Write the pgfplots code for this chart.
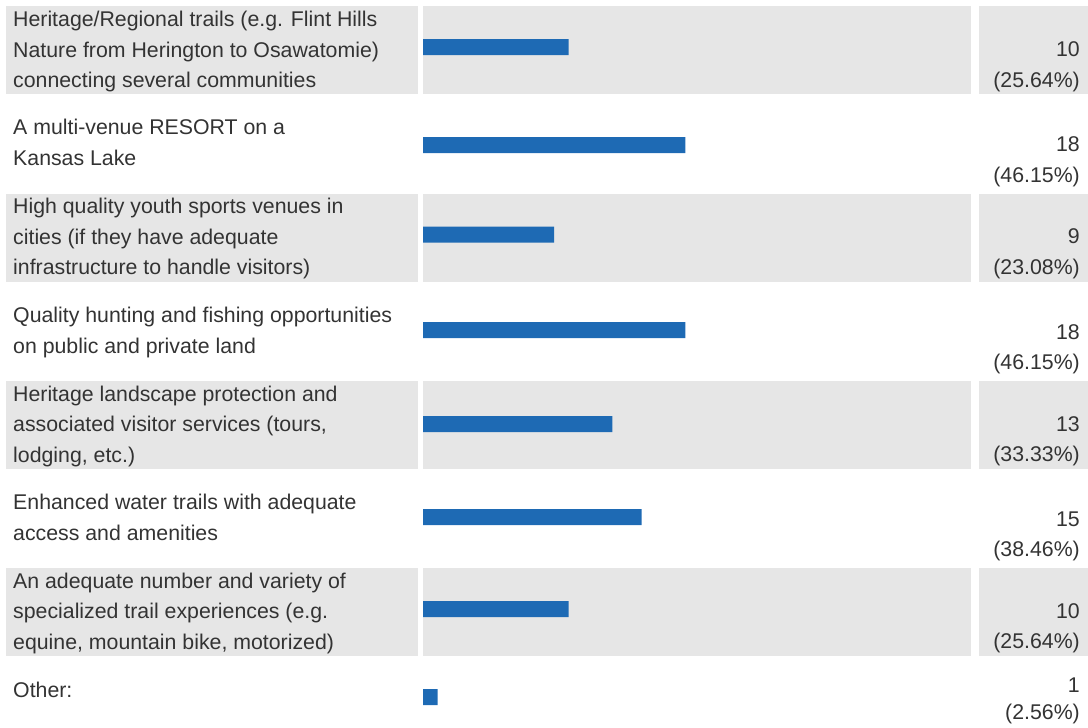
\documentclass[border=0pt]{standalone}
\usepackage{fontspec}
\setmainfont{Liberation Sans}
\usepackage{pgfplots}
\usepackage{pgfplotstable}
\pgfplotsset{compat=1.18}

\definecolor{barblue}{RGB}{30,106,180}
\definecolor{rowgray}{RGB}{230,230,230}
\definecolor{txt}{RGB}{51,51,51}

% ypos = bar centre, measured in pixels from the top
\pgfplotstableread{
ypos  count
47    10
145   18
234.7 9
330   18
424   13
517   15
609   10
697   1
}\responses

% one line of label text, base at pixel row #2
\newcommand\lab[2]{\node[anchor=base west, inner sep=0pt, text=txt] at (13pt,{728pt-#2pt}) {#1};}
\newcommand\val[2]{\node[anchor=base east, inner sep=0pt, text=txt] at (1080pt,{728pt-#2pt}) {#1};}
\newcommand\grayrow[1]{%
  \fill[rowgray] (6pt,{728pt-#1pt}) rectangle (418pt,{728pt-#1pt-88pt});
  \fill[rowgray] (423pt,{728pt-#1pt}) rectangle (971pt,{728pt-#1pt-88pt});
  \fill[rowgray] (979pt,{728pt-#1pt}) rectangle (1088pt,{728pt-#1pt-88pt});}

\begin{document}
\begin{tikzpicture}
\useasboundingbox (0,0) rectangle (1088pt,728pt);
\fontsize{21.3pt}{30.5pt}\selectfont

\grayrow{6.5}
\grayrow{193.7}
\grayrow{380.9}
\grayrow{568.1}

\begin{axis}[
	at={(423pt,0pt)}, anchor=south west,
	scale only axis,
	width=548pt, height=728pt,
	xmin=0, xmax=37.6,
	ymin=0, ymax=728,
	y dir=reverse,
	hide axis,
	xbar, bar width=16pt, bar shift=0pt,
	]
	\addplot[fill=barblue, draw=none] table[x=count, y=ypos] {\responses};
\end{axis}

% labels
\lab{Heritage/Regional trails (e.g. Flint Hills}{26.7}
\lab{Nature from Herington to Osawatomie)}{57.2}
\lab{connecting several communities}{87.7}
\lab{A multi-venue RESORT on a}{135}
\lab{Kansas Lake}{166}
\lab{High quality youth sports venues in}{213.9}
\lab{cities (if they have adequate}{244.4}
\lab{infrastructure to handle visitors)}{274.9}
\lab{Quality hunting and fishing opportunities}{322.2}
\lab{on public and private land}{353.2}
\lab{Heritage landscape protection and}{401.1}
\lab{associated visitor services (tours,}{431.6}
\lab{lodging, etc.)}{462.1}
\lab{Enhanced water trails with adequate}{509.4}
\lab{access and amenities}{540.4}
\lab{An adequate number and variety of}{588.3}
\lab{specialized trail experiences (e.g.}{618.8}
\lab{equine, mountain bike, motorized)}{649.3}
\lab{Other:}{698}

% counts and shares
\val{10}{56.7}\val{(25.64\%)}{87.2}
\val{18}{152}\val{(46.15\%)}{182.5}
\val{9}{243.9}\val{(23.08\%)}{274.4}
\val{18}{339.2}\val{(46.15\%)}{369.7}
\val{13}{431.1}\val{(33.33\%)}{461.6}
\val{15}{526.4}\val{(38.46\%)}{556.9}
\val{10}{618.3}\val{(25.64\%)}{648.8}
\val{1}{693}\val{(2.56\%)}{720}
\end{tikzpicture}
\end{document}
